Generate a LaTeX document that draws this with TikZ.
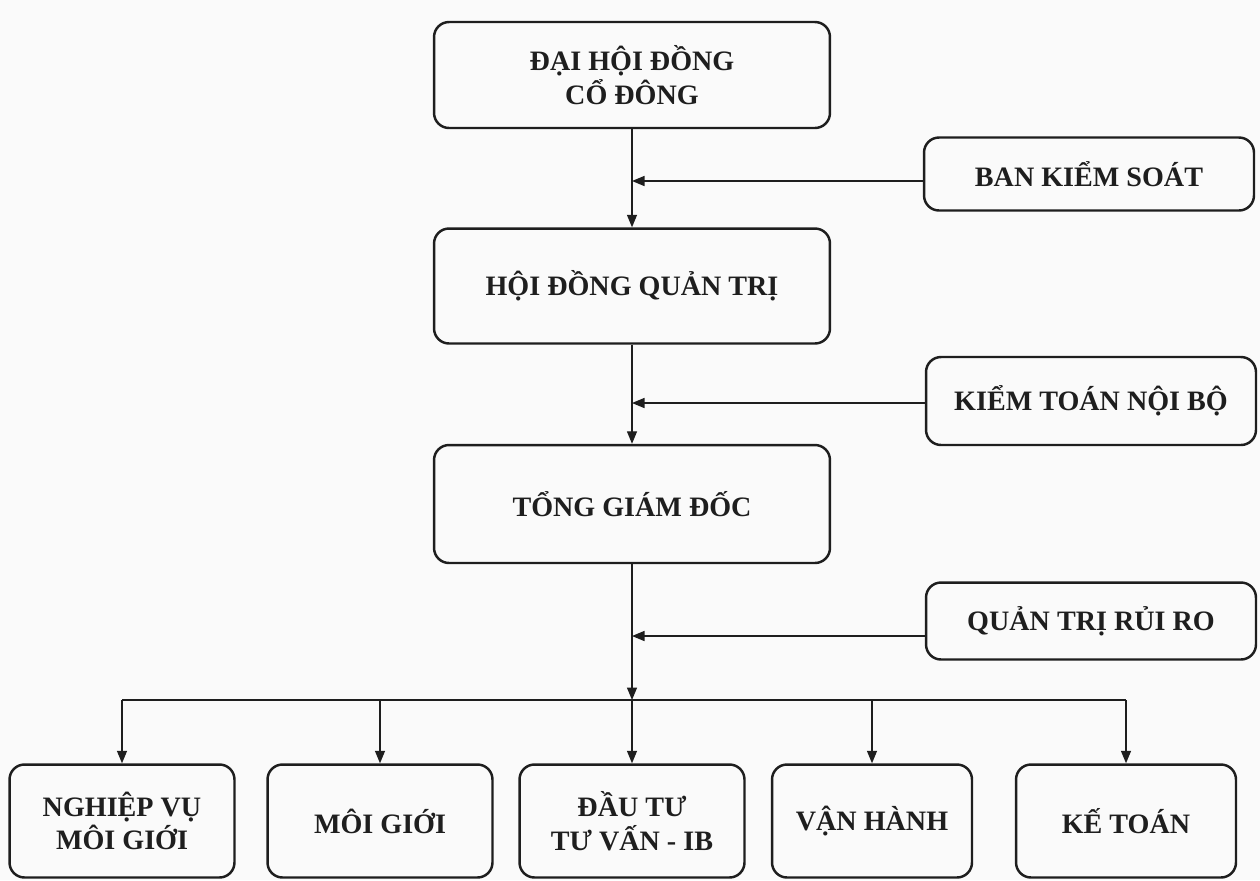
\documentclass[tikz,border=0pt]{standalone}
\usepackage{fontspec}
\setmainfont{Liberation Serif}
\usetikzlibrary{arrows.meta}
\definecolor{ink}{HTML}{1E1E1E}

\begin{document}
\begin{tikzpicture}[x=0.02cm,y=-0.02cm,
    box/.style={draw=ink,line width=1.4pt,rounded corners=0.3cm,align=center,
        font=\bfseries\fontsize{16}{19}\selectfont,text=ink,inner sep=0pt},
    mainbox/.style={box,minimum width=7.92cm},
    sidebox/.style={box,minimum width=6.6cm},
    unitbox/.style={box,minimum height=2.26cm},
    link/.style={draw=ink,line width=0.8pt},
    arr/.style={link,-{Triangle[length=0.25cm,width=0.2cm]}}]

\useasboundingbox[fill=gray!4] (0,0) rectangle (1260,880);

% main column
\node[mainbox,minimum height=2.12cm] (dhcd) at (632,75) {ĐẠI HỘI ĐỒNG\\CỔ ĐÔNG};
\node[mainbox,minimum height=2.3cm] (hdqt) at (632,286) {HỘI ĐỒNG QUẢN TRỊ};
\node[mainbox,minimum height=2.36cm] (tgd) at (632,504) {TỔNG GIÁM ĐỐC};

% right side
\node[sidebox,minimum height=1.46cm] (bks) at (1089,174) {BAN KIỂM SOÁT};
\node[sidebox,minimum height=1.76cm] (ktnb) at (1091,401) {KIỂM TOÁN NỘI BỘ};
\node[sidebox,minimum height=1.54cm] (qtrr) at (1091,621) {QUẢN TRỊ RỦI RO};

% units
\node[unitbox,minimum width=4.5cm] (u1) at (122,821) {NGHIỆP VỤ\\MÔI GIỚI};
\node[unitbox,minimum width=4.5cm] (u2) at (380,821) {MÔI GIỚI};
\node[unitbox,minimum width=4.5cm] (u3) at (632,821) {ĐẦU TƯ\\TƯ VẤN - IB};
\node[unitbox,minimum width=4.0cm] (u4) at (872,821) {VẬN HÀNH};
\node[unitbox,minimum width=4.4cm] (u5) at (1126,821) {KẾ TOÁN};

\draw[arr] (dhcd) -- (hdqt);
\draw[arr] (hdqt) -- (tgd);

\coordinate (bksin) at ([yshift=-0.14cm]bks.west);
\coordinate (ktnbin) at ([yshift=-0.04cm]ktnb.west);
\coordinate (qtrrin) at ([yshift=-0.3cm]qtrr.west);
\coordinate (j1) at (bksin -| dhcd.south);
\coordinate (j2) at (ktnbin -| hdqt.south);
\coordinate (j3) at (qtrrin -| tgd.south);
\draw[arr] (bksin) -- (j1);
\draw[arr] (ktnbin) -- (j2);
\draw[arr] (qtrrin) -- (j3);

\coordinate (bus) at (632,700);
\draw[arr] (tgd) -- (bus);
\draw[link] (u1.north |- bus) -- (u5.north |- bus);
\foreach \u in {u1,u2,u3,u4,u5}
    \draw[arr] (\u.north |- bus) -- (\u.north);

\end{tikzpicture}
\end{document}
